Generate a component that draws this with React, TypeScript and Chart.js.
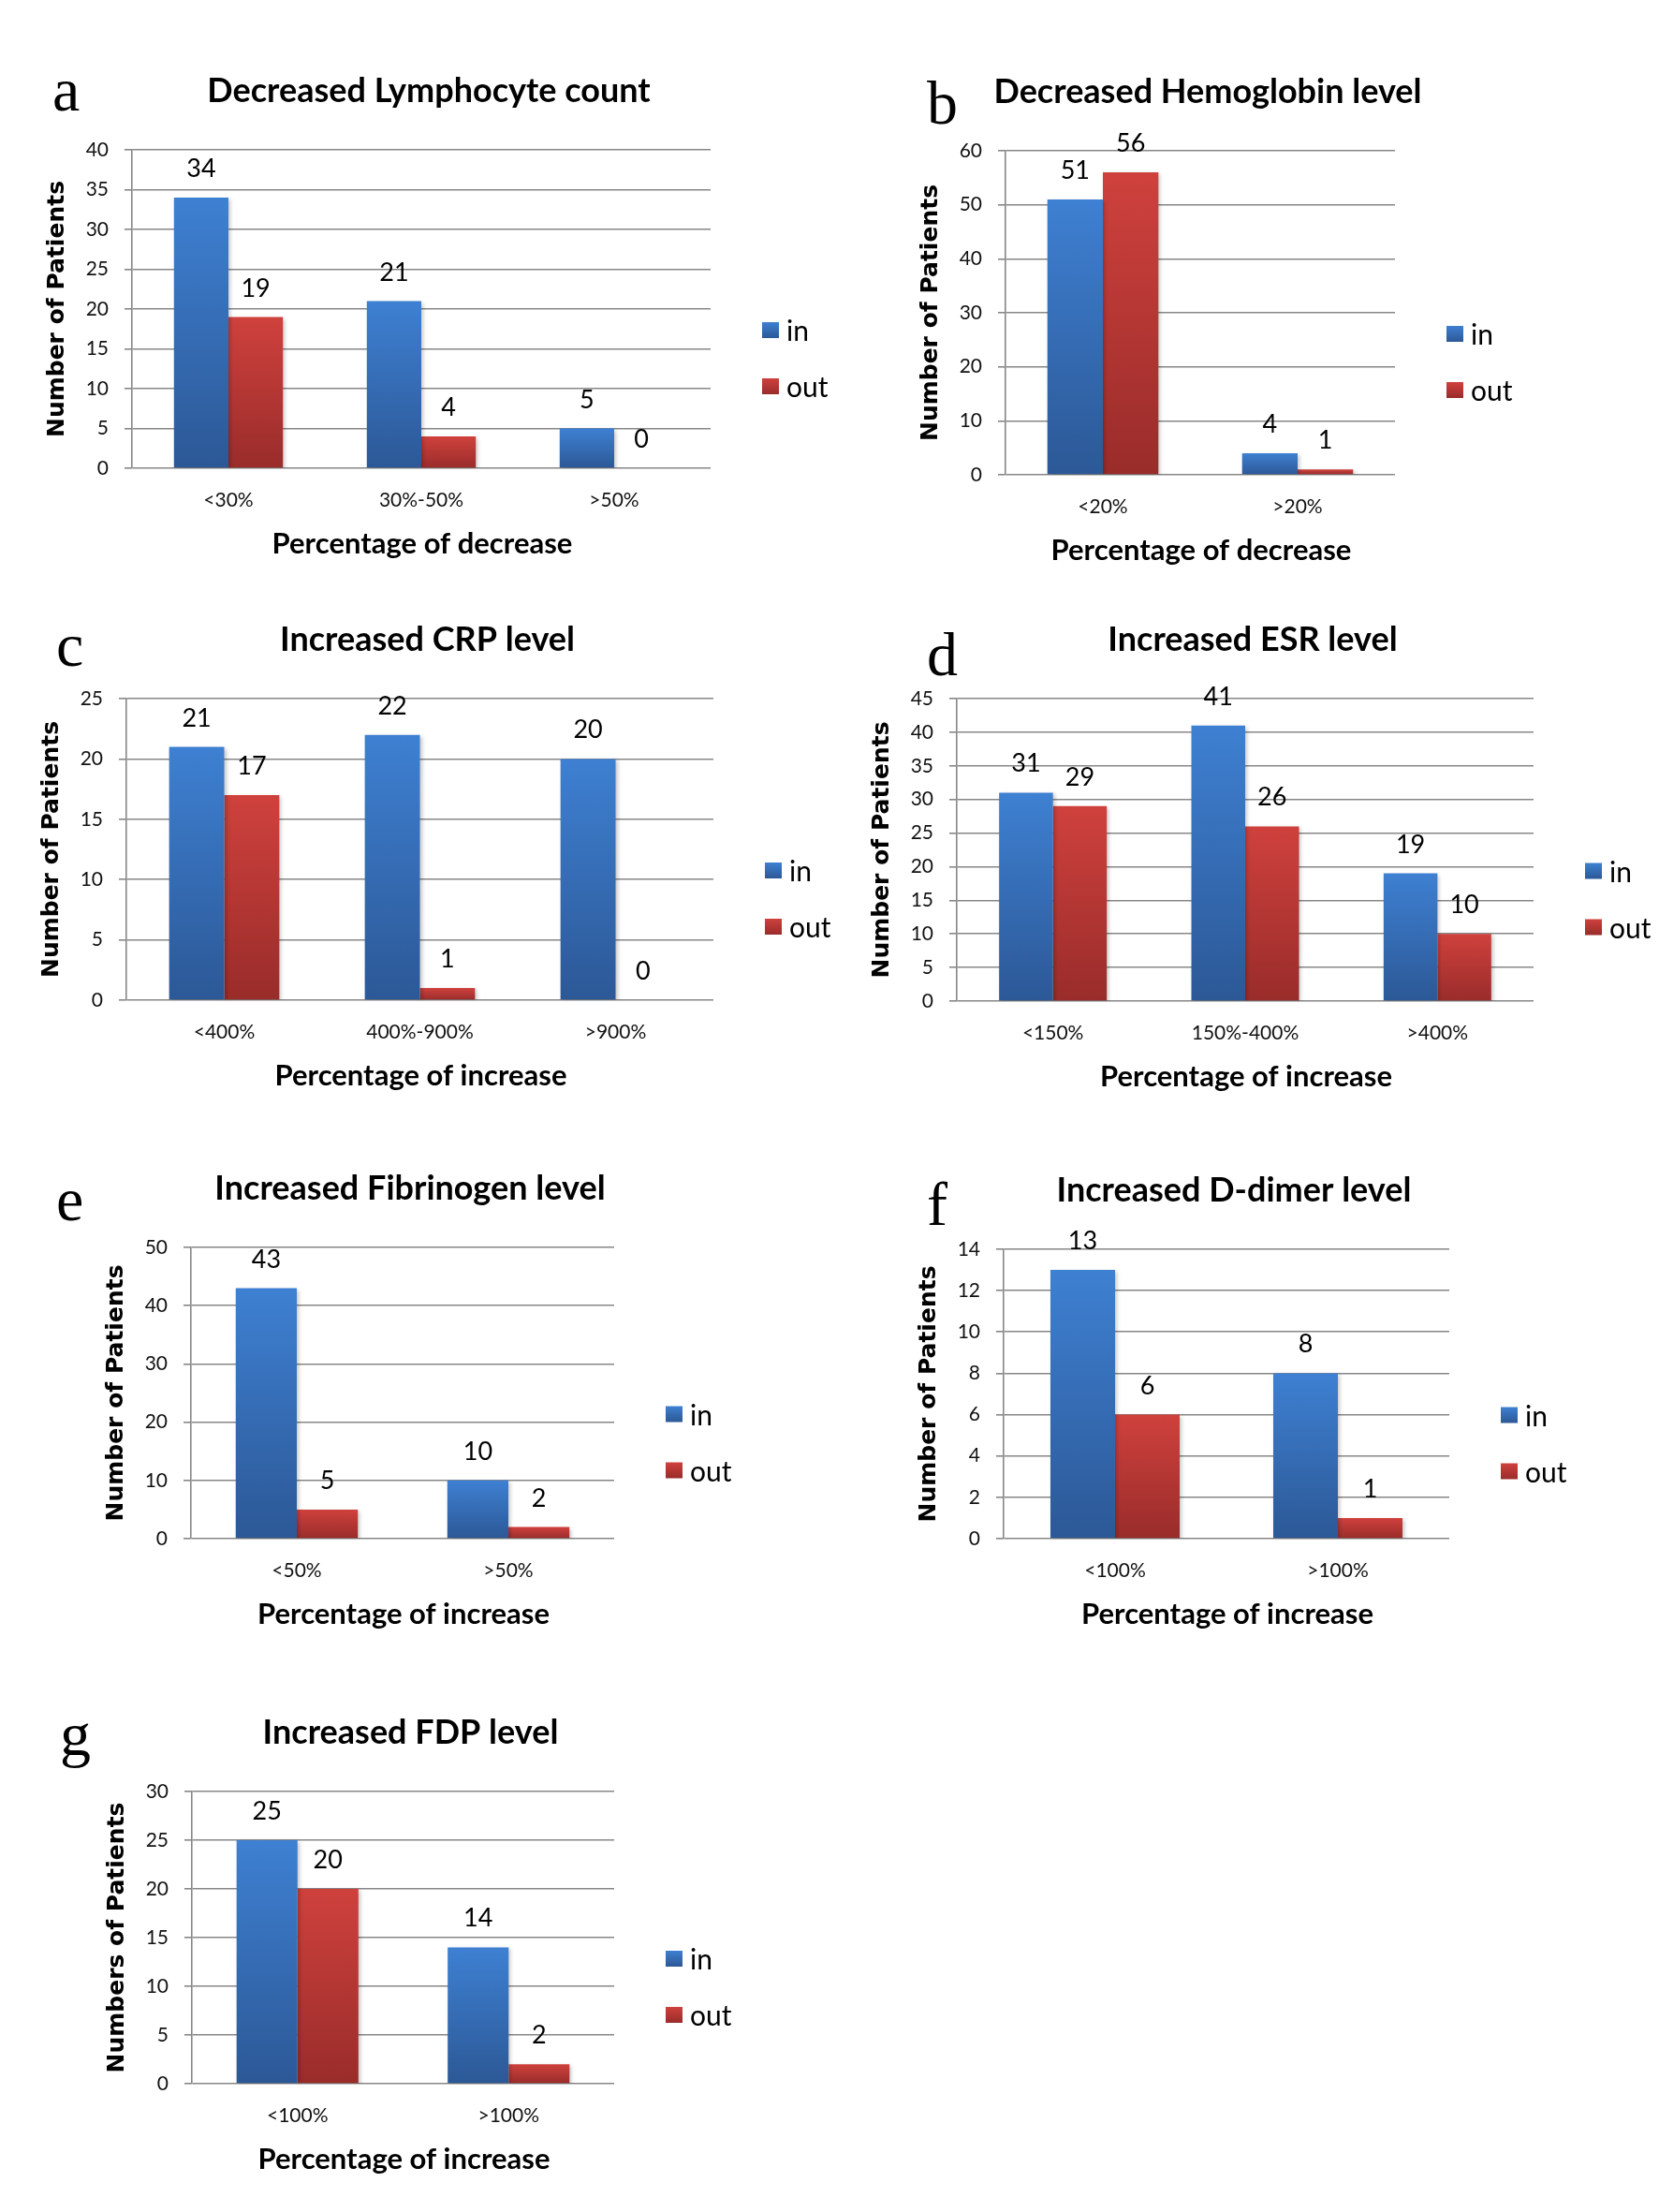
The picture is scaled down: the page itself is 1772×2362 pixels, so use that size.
import React, { useEffect, useRef } from "react";
import { Chart, registerables } from "chart.js";

Chart.register(...registerables);

// ---------------- data ----------------
const seriesNames = ["in", "out"];
const xTitleDecrease = "Percentage of decrease";
const xTitleIncrease = "Percentage of increase";
const yTitlePatients = "Number of Patients";
const yTitlePatientsG = "Numbers of Patients";

const titleA = "Decreased Lymphocyte count";
const categoriesA = ["<30%", "30%-50%", ">50%"];
const inA = [34, 21, 5];
const outA = [19, 4, 0];
const yMaxA = 40;
const yStepA = 5;

const titleB = "Decreased Hemoglobin level";
const categoriesB = ["<20%", ">20%"];
const inB = [51, 4];
const outB = [56, 1];
const yMaxB = 60;
const yStepB = 10;

const titleC = "Increased CRP level";
const categoriesC = ["<400%", "400%-900%", ">900%"];
const inC = [21, 22, 20];
const outC = [17, 1, 0];
const yMaxC = 25;
const yStepC = 5;

const titleD = "Increased ESR level";
const categoriesD = ["<150%", "150%-400%", ">400%"];
const inD = [31, 41, 19];
const outD = [29, 26, 10];
const yMaxD = 45;
const yStepD = 5;

const titleE = "Increased Fibrinogen level";
const categoriesE = ["<50%", ">50%"];
const inE = [43, 10];
const outE = [5, 2];
const yMaxE = 50;
const yStepE = 10;

const titleF = "Increased D-dimer level";
const categoriesF = ["<100%", ">100%"];
const inF = [13, 8];
const outF = [6, 1];
const yMaxF = 14;
const yStepF = 2;

const titleG = "Increased FDP level";
const categoriesG = ["<100%", ">100%"];
const inG = [25, 14];
const outG = [20, 2];
const yMaxG = 30;
const yStepG = 5;

// ---------------- layout (page pixels) ----------------
const layoutA = { L: 141, T: 160, R: 759, B: 500, cat: 0.565, lx: 58, lb: 118 };
const layoutB = { L: 1074, T: 161, R: 1490, B: 507, cat: 0.57, lx: 992, lb: 132 };
const layoutC = { L: 135, T: 746, R: 762, B: 1068, cat: 0.563, lx: 62, lb: 711 };
const layoutD = { L: 1022, T: 746, R: 1638, B: 1069, cat: 0.56, lx: 992, lb: 721 };
const layoutE = { L: 204, T: 1332, R: 656, B: 1643, cat: 0.577, lx: 62, lb: 1303 };
const layoutF = { L: 1072, T: 1334, R: 1548, B: 1643, cat: 0.58, lx: 992, lb: 1308 };
const layoutG = { L: 205, T: 1913, R: 656, B: 2225, cat: 0.577, lx: 66, lb: 1874 };

const PANELS = [
  { letter: "a", title: titleA, cats: categoriesA, vin: inA, vout: outA, yMax: yMaxA, yStep: yStepA, xTitle: xTitleDecrease, yTitle: yTitlePatients, lay: layoutA },
  { letter: "b", title: titleB, cats: categoriesB, vin: inB, vout: outB, yMax: yMaxB, yStep: yStepB, xTitle: xTitleDecrease, yTitle: yTitlePatients, lay: layoutB },
  { letter: "c", title: titleC, cats: categoriesC, vin: inC, vout: outC, yMax: yMaxC, yStep: yStepC, xTitle: xTitleIncrease, yTitle: yTitlePatients, lay: layoutC },
  { letter: "d", title: titleD, cats: categoriesD, vin: inD, vout: outD, yMax: yMaxD, yStep: yStepD, xTitle: xTitleIncrease, yTitle: yTitlePatients, lay: layoutD },
  { letter: "e", title: titleE, cats: categoriesE, vin: inE, vout: outE, yMax: yMaxE, yStep: yStepE, xTitle: xTitleIncrease, yTitle: yTitlePatients, lay: layoutE },
  { letter: "f", title: titleF, cats: categoriesF, vin: inF, vout: outF, yMax: yMaxF, yStep: yStepF, xTitle: xTitleIncrease, yTitle: yTitlePatients, lay: layoutF },
  { letter: "g", title: titleG, cats: categoriesG, vin: inG, vout: outG, yMax: yMaxG, yStep: yStepG, xTitle: xTitleIncrease, yTitle: yTitlePatientsG, lay: layoutG },
];

const BLUE = ["#3e80d2", "#2c5896"];
const RED = ["#cf413d", "#992c2a"];
const GRID = "#878787";
const SANS = "Lato, 'Open Sans', sans-serif";

const Y_W = 60;
const X_H = 50;

function grad(ctx: CanvasRenderingContext2D, top: number, bottom: number, c: string[]) {
  const g = ctx.createLinearGradient(0, top, 0, bottom);
  g.addColorStop(0, c[0]);
  g.addColorStop(1, c[1]);
  return g;
}

function barFill(colors: string[]) {
  return (c: any) => {
    const chart = c.chart;
    if (!chart.chartArea || c.type !== "data") return colors[0];
    const y = chart.scales.y;
    const top = y.getPixelForValue(c.raw as number);
    const bottom = y.getPixelForValue(0);
    if (bottom - top < 1) return colors[0];
    return grad(chart.ctx, top, bottom, colors);
  };
}

function PanelChart({ p }: { p: any }) {
  const ref = useRef<HTMLCanvasElement | null>(null);
  const { L, T, R, B } = p.lay;
  const cl = L - 140;
  const ct = T - 130;
  const cr = Math.min(R + 135, 1772);
  const cb = B + 110;
  const w = cr - cl;
  const h = cb - ct;

  useEffect(() => {
    if (!ref.current) return;
    const textPlugin = {
      id: "panelText",
      beforeDatasetsDraw(chart: any) {
        const ctx = chart.ctx;
        ctx.save();
        ctx.shadowColor = "rgba(0,0,0,0.22)";
        ctx.shadowBlur = 4;
        ctx.shadowOffsetX = 2;
        ctx.shadowOffsetY = 2;
      },
      afterDatasetsDraw(chart: any) {
        const ctx = chart.ctx;
        ctx.restore();
        const a = chart.chartArea;
        ctx.save();
        ctx.fillStyle = "#000";
        // data labels
        ctx.font = `27px ${SANS}`;
        ctx.textAlign = "center";
        ctx.textBaseline = "alphabetic";
        chart.data.datasets.forEach((ds: any, di: number) => {
          const meta = chart.getDatasetMeta(di);
          meta.data.forEach((el: any, i: number) => {
            ctx.fillText(String(ds.data[i]), el.x, el.y - 22);
          });
        });
        // title
        ctx.font = `bold 36px ${SANS}`;
        ctx.fillText(p.title, (a.left + a.right) / 2 + 8, a.top - 51);
        // x title
        ctx.font = `bold 31px ${SANS}`;
        ctx.fillText(p.xTitle, (a.left + a.right) / 2 + 1, a.bottom + 91);
        // y title
        ctx.save();
        ctx.translate(a.left - 80, (a.top + a.bottom) / 2);
        ctx.rotate(-Math.PI / 2);
        ctx.font = `bold 25px 'DejaVu Sans', sans-serif`;
        ctx.textBaseline = "middle";
        ctx.fillText(p.yTitle, 0, 0);
        ctx.restore();
        // legend
        const mid = (a.top + a.bottom) / 2;
        seriesNames.forEach((n, k) => {
          const sx = a.right + 55;
          const sy = mid + 14 + k * 60;
          ctx.fillStyle = grad(ctx, sy, sy + 17, k === 0 ? BLUE : RED);
          ctx.fillRect(sx, sy, 18, 17);
          ctx.fillStyle = "#000";
          ctx.font = `30px ${SANS}`;
          ctx.textAlign = "left";
          ctx.fillText(n, sx + 26, sy + 20);
        });
        ctx.restore();
      },
    };

    const chart = new Chart(ref.current, {
      type: "bar",
      data: {
        labels: p.cats,
        datasets: [
          { label: seriesNames[0], data: p.vin, backgroundColor: barFill(BLUE), borderWidth: 0 },
          { label: seriesNames[1], data: p.vout, backgroundColor: barFill(RED), borderWidth: 0 },
        ],
      },
      options: {
        responsive: false,
        animation: false,
        devicePixelRatio: 1,
        datasets: { bar: { categoryPercentage: p.lay.cat, barPercentage: 1 } },
        layout: {
          padding: {
            left: 140 - Y_W,
            top: 130,
            right: cr - R,
            bottom: cb - B - X_H,
          },
        },
        plugins: {
          legend: { display: false },
          title: { display: false },
          tooltip: { enabled: false },
        },
        scales: {
          x: {
            afterFit: (s: any) => {
              s.height = X_H;
            },
            grid: { display: false, drawTicks: false, tickLength: 0 },
            border: { display: false },
            ticks: {
              padding: 22,
              color: "#111",
              font: { family: SANS, size: 21 },
              maxRotation: 0,
              autoSkip: false,
            },
          },
          y: {
            min: 0,
            max: p.yMax,
            afterFit: (s: any) => {
              s.width = Y_W;
            },
            grid: { color: GRID, lineWidth: 1.6, tickLength: 8, drawTicks: true, tickColor: GRID },
            border: { display: true, color: GRID, width: 1.6 },
            ticks: {
              stepSize: p.yStep,
              padding: 17,
              color: "#111",
              font: { family: SANS, size: 21 },
            },
          },
        },
      },
      plugins: [textPlugin],
    } as any);
    return () => chart.destroy();
  }, []);

  return (
    <canvas
      ref={ref}
      width={w}
      height={h}
      style={{ position: "absolute", left: cl, top: ct, width: w, height: h }}
    />
  );
}

export default function App() {
  return (
    <div
      style={{
        position: "absolute",
        left: 0,
        top: 0,
        width: 1772,
        height: 2362,
        background: "#fff",
        overflow: "hidden",
      }}
    >
      {PANELS.map((p) => (
        <PanelChart key={p.letter} p={p} />
      ))}
      {PANELS.map((p) => (
        <div
          key={"l" + p.letter}
          style={{
            position: "absolute",
            left: p.lay.lx - 2,
            top: p.lay.lb - 55,
            font: "66px 'Liberation Serif', serif",
            lineHeight: "66px",
            color: "#000",
          }}
        >
          {p.letter}
        </div>
      ))}
    </div>
  );
}
